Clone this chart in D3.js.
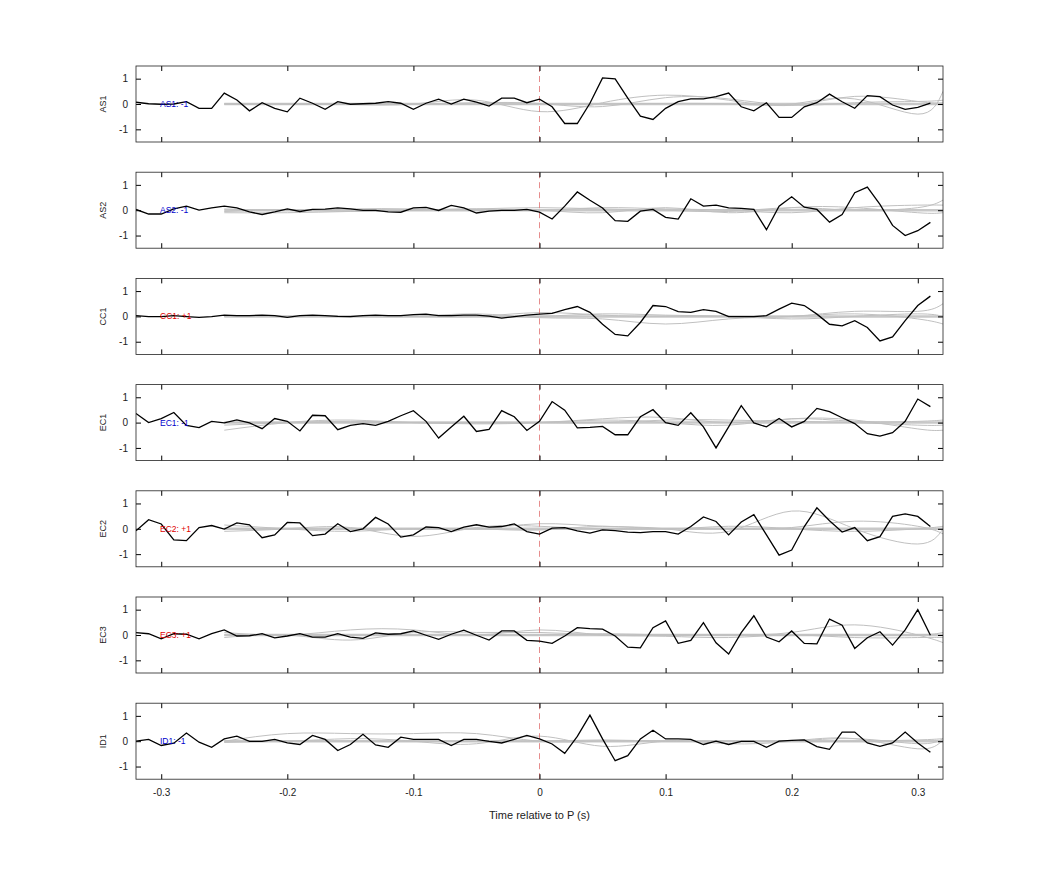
<!DOCTYPE html>
<html><head><meta charset="utf-8">
<script src="https://cdn.jsdelivr.net/npm/d3@7"></script>
<style>body{margin:0;background:#fff}</style></head>
<body><svg id="c" width="1042" height="875"></svg>
<script>
const panelNames = ["AS1","AS2","CC1","EC1","EC2","EC3","ID1"];
const panelSigns = ["-1","-1","+1","-1","+1","+1","-1"];
const xTicks = [-0.3,-0.2,-0.1,0,0.1,0.2,0.3];
const yTicks = [-1,0,1];
const t0 = -0.32, dt = 0.01;

const AS1 = [0.07,0.01,-0.01,0,0.09,-0.17,-0.17,0.43,0.16,-0.27,0.05,-0.17,-0.31,0.23,0.03,-0.21,0.09,-0.01,0.01,0.03,0.09,0.03,-0.21,0.03,0.19,0,0.19,0.07,-0.08,0.23,0.23,0.05,0.19,-0.11,-0.77,-0.77,0.03,1.03,0.99,0.23,-0.48,-0.61,-0.17,0.09,0.2,0.2,0.29,0.43,-0.11,-0.27,0.05,-0.53,-0.53,-0.11,0.05,0.39,0.09,-0.17,0.33,0.29,-0.04,-0.21,-0.13,0.03];
const AS2 = [0.03,-0.15,-0.15,0.05,0.16,0,0.09,0.16,0.09,-0.07,-0.17,-0.07,0.05,-0.05,0.03,0.04,0.09,0.05,-0.01,-0.01,-0.07,-0.08,0.09,0.11,-0.01,0.19,0.09,-0.11,-0.04,-0.01,-0.01,0.03,-0.08,-0.35,0.16,0.72,0.39,0.09,-0.41,-0.44,-0.04,0.03,-0.28,-0.35,0.45,0.16,0.2,0.09,0.07,0.03,-0.77,0.16,0.53,0.12,0.03,-0.47,-0.17,0.69,0.91,0.23,-0.6,-1.0,-0.81,-0.48];
const CC1 = [0.03,-0.01,-0.01,0.03,-0.01,-0.04,-0.01,0.05,0.03,0.03,0.05,0.03,-0.04,0.03,0.05,0.03,0,-0.01,0.03,0.05,0.03,0.03,0.07,0.09,0.03,0.03,0.05,0.05,0.01,-0.07,-0.01,0.05,0.09,0.12,0.27,0.39,0.16,-0.31,-0.71,-0.77,-0.24,0.43,0.39,0.19,0.16,0.27,0.2,-0.01,-0.01,-0.01,0.03,0.29,0.52,0.43,0.09,-0.31,-0.37,-0.17,-0.44,-0.97,-0.81,-0.17,0.43,0.8];
const EC1 = [0.36,0,0.16,0.4,-0.11,-0.2,0.05,-0.01,0.11,-0.01,-0.24,0.16,0.05,-0.33,0.29,0.27,-0.28,-0.11,-0.04,-0.11,0.05,0.27,0.47,0.05,-0.61,-0.17,0.25,-0.35,-0.27,0.47,0.23,-0.31,0.05,0.83,0.49,-0.21,-0.19,-0.15,-0.48,-0.48,0.23,0.51,0,-0.11,0.39,-0.17,-1.0,-0.17,0.67,-0.01,-0.17,0.16,-0.17,0.05,0.56,0.43,0.19,-0.04,-0.44,-0.53,-0.4,0.05,0.93,0.63];
const EC2 = [-0.08,0.36,0.19,-0.44,-0.47,0.05,0.13,-0.01,0.23,0.16,-0.35,-0.24,0.25,0.23,-0.27,-0.21,0.2,-0.11,0,0.45,0.19,-0.33,-0.24,0.07,0.05,-0.11,0.07,0.16,0.07,0.09,0.19,-0.11,-0.21,0.03,0.05,-0.08,-0.17,-0.04,-0.07,-0.13,-0.15,-0.11,-0.11,-0.21,0.09,0.47,0.29,-0.24,0.27,0.56,-0.24,-1.04,-0.84,0.09,0.83,0.32,-0.13,0.05,-0.47,-0.31,0.49,0.59,0.49,0.09];
const EC3 = [0.09,0.05,-0.15,0.05,0.03,-0.15,0.05,0.2,-0.04,-0.03,0.05,-0.11,-0.04,0.05,-0.08,-0.08,0.05,-0.08,-0.13,0.08,0.03,0.05,0.16,-0.01,-0.17,0.03,0.19,-0.01,-0.2,0.16,0.16,-0.21,-0.24,-0.33,-0.04,0.29,0.25,0.23,-0.04,-0.48,-0.51,0.29,0.56,-0.33,-0.21,0.49,-0.31,-0.75,0.09,0.76,-0.08,-0.27,0.16,-0.33,-0.35,0.63,0.39,-0.53,-0.11,0.13,-0.4,0.2,1.0,-0.01];
const ID1 = [0,0.07,-0.17,-0.08,0.32,-0.04,-0.24,0.09,0.2,-0.01,-0.01,0.07,-0.07,-0.13,0.23,0.07,-0.37,-0.13,0.27,-0.15,-0.24,0.16,0.07,0.07,0.07,-0.17,0.07,0.07,-0.01,-0.07,0.07,0.23,0.09,-0.11,-0.48,0.19,1.03,0.09,-0.77,-0.57,0.09,0.43,0.09,0.09,0.07,-0.13,0,-0.13,-0.01,-0.01,-0.24,0,0.03,0.05,-0.21,-0.32,0.36,0.36,-0.07,-0.2,-0.07,0.36,-0.07,-0.44];
const blackSeries = [AS1,AS2,CC1,EC1,EC2,EC3,ID1];

const grayT = [-0.25,-0.2,-0.15,-0.1,-0.05,0,0.05,0.1,0.15,0.2,0.25,0.3,0.32];
const grayAS1 = [[0,0,0,0,0.05,0.02,-0.1,0.25,0.2,-0.05,0.05,0.1,0.15],[0,0,-0.02,0,0.15,-0.3,0.05,0.35,0.15,-0.05,0.3,0.1,0.05],[0,0,0,0,0,0,0,0.02,0,0,0.2,-0.4,0.5]];
const grayAS2 = [[-0.05,0,-0.05,0,0.05,0.1,0.05,0,-0.05,0.1,0,0.1,0.4],[0.05,0,0.05,0.05,0,0,-0.1,0.1,-0.1,0.1,0.1,-0.1,-0.1],[-0.1,-0.1,-0.05,0,0.05,0,0.1,0.05,0,-0.1,0.1,0.2,0.2]];
const grayCC1 = [[0,0,0,0,0,0.15,0.05,0,0,0,0.2,0.2,0.5],[0,0,0,0,0.1,-0.05,-0.1,-0.3,-0.1,0,0.1,-0.1,-0.3],[0,0,0,0,0,0,0.1,0.05,0,-0.1,0,0.1,0]];
const grayEC1 = [[-0.1,0,0.05,0,-0.05,0,0.15,0.2,0,0.15,0.1,-0.25,-0.3],[-0.3,0,0.1,0,0,0,0.1,0,-0.1,0.15,0.05,0.05,0.1],[0,0,0,0,0,0,0,0.1,0.1,0.05,0,-0.1,-0.1]];
const grayEC2 = [[0.15,0,-0.1,0,0,0.2,0.1,0,-0.1,0.7,0,-0.6,0],[-0.1,0,0.05,-0.3,0.05,0.1,0,0,0,0.05,0.3,0.1,-0.2],[0,0,0,0,0,-0.05,0.1,0,0.1,0,-0.1,0,0.1]];
const grayEC3 = [[0.1,0,0.2,0.2,0,0.2,0,0,0,0.1,0.4,0,-0.3],[-0.1,0,-0.2,0.1,0.1,0.1,0,-0.05,-0.1,0,-0.1,-0.1,-0.1],[0,0,0,0,0,0,0.05,0,0,0,0,0,0.1]];
const grayID1 = [[0,0.3,0.3,0.3,0.3,0,0,0,0,0,0.1,-0.1,0.1],[0,0,0.1,0,-0.1,0.2,-0.2,0,-0.1,0,0.1,-0.3,0.05],[-0.05,0,0,0,0,0,0.05,0,0,0,0,0.05,0.1]];
const graySeries = [grayAS1,grayAS2,grayCC1,grayEC1,grayEC2,grayEC3,grayID1];

const svg = d3.select("#c");
const L = 136, R = 943, H = 76, top0 = 66, step = 106.2;
const x = d3.scaleLinear().domain([-0.32,0.32]).range([L,R]);
const font = "Liberation Sans, Arial, sans-serif";
const fmt = d => String(d);

panelNames.forEach((name,i)=>{
  const top = top0 + step*i;
  const y = d3.scaleLinear().domain([-1.5,1.5]).range([top+H, top]);
  const g = svg.append("g");
  const clipId = "clip"+i;
  g.append("clipPath").attr("id",clipId).append("rect").attr("x",L).attr("y",top).attr("width",R-L).attr("height",H);
  const pg = g.append("g").attr("clip-path",`url(#${clipId})`);
  pg.append("line").attr("x1",x(-0.25)).attr("x2",R).attr("y1",y(0)).attr("y2",y(0)).attr("stroke","#c8c8c8").attr("stroke-width",2.5);
  const gl = d3.line().x((d,j)=>x(grayT[j])).y(d=>y(d)).curve(d3.curveNatural);
  graySeries[i].forEach(s=>{
    pg.append("path").attr("d",gl(s)).attr("fill","none").attr("stroke","#c0c0c0").attr("stroke-width",1);
  });
  pg.append("line").attr("x1",x(0)).attr("x2",x(0)).attr("y1",top).attr("y2",top+H).attr("stroke","#e07070").attr("stroke-dasharray","6,4").attr("stroke-width",0.8);
  const bl = d3.line().x((d,j)=>x(t0+dt*j)).y(d=>y(d));
  pg.append("path").attr("d",bl(blackSeries[i])).attr("fill","none").attr("stroke","#000").attr("stroke-width",1.3);
  const ax = (axis, tr) => g.append("g").attr("transform",tr).call(axis).call(a=>{a.select(".domain").remove();a.selectAll("text").attr("font-family",font).attr("font-size",10).attr("fill","#222");});
  ax(d3.axisBottom(x).tickValues(xTicks).tickSize(-5).tickFormat(i===6?fmt:""), `translate(0,${top+H})`).selectAll("text").attr("dy","1.4em");
  ax(d3.axisTop(x).tickValues(xTicks).tickSize(-5).tickFormat(""), `translate(0,${top})`);
  ax(d3.axisLeft(y).tickValues(yTicks).tickSize(-5).tickFormat(fmt), `translate(${L},0)`).selectAll("text").attr("dx","-0.5em");
  ax(d3.axisRight(y).tickValues(yTicks).tickSize(-5).tickFormat(""), `translate(${R},0)`);
  g.append("rect").attr("x",L).attr("y",top).attr("width",R-L).attr("height",H).attr("fill","none").attr("stroke","#222").attr("stroke-width",0.8);
  g.append("text").attr("transform",`translate(106,${y(0)}) rotate(-90)`).attr("text-anchor","middle").attr("font-family",font).attr("font-size",9).attr("fill","#222").text(name);
  g.append("text").attr("x",160).attr("y",y(0)+3).attr("font-family",font).attr("font-size",8.5)
    .attr("fill", panelSigns[i]==="+1" ? "#e00000" : "#0000cc").text(`${name}: ${panelSigns[i]}`);
});
svg.append("text").attr("x",x(0)).attr("y",819).attr("text-anchor","middle").attr("font-family",font).attr("font-size",11).attr("fill","#222").text("Time relative to P (s)");
</script></body></html>
